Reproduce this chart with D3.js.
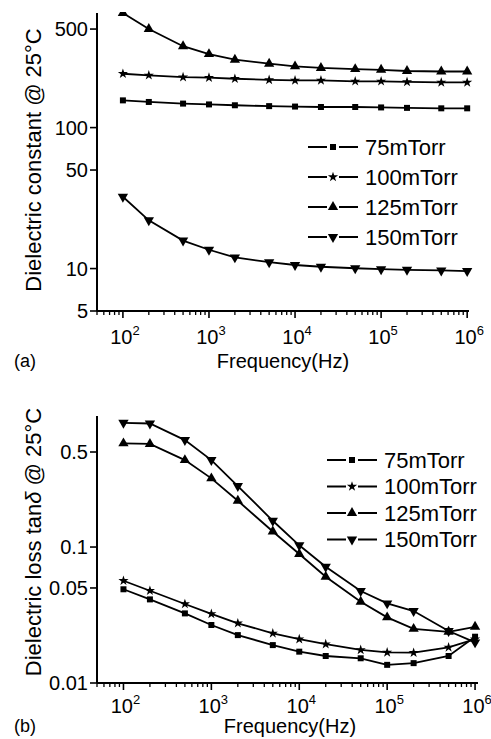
<!DOCTYPE html>
<html lang="en">
<head>
    <meta charset="UTF-8">
    <title>Dielectric constant and loss</title>
    <script src="https://d3js.org/d3.v7.min.js"></script>
    <style>
        body { margin: 0; background: white; }
        text { font-family: "Liberation Sans", Arial, sans-serif; fill: black; }
    </style>
</head>
<body>
<svg id="chart" width="491" height="739"></svg>

<script>
    // Frequencies (Hz) measured for every sample
    let freqs = [1e2, 2e2, 5e2, 1e3, 2e3, 5e3, 1e4, 2e4, 5e4, 1e5, 2e5, 5e5, 1e6];
    let seriesNames = ["75mTorr", "100mTorr", "125mTorr", "150mTorr"];

    // (a) dielectric constant @ 25C
    let eps75  = [156, 152, 148, 146, 144, 142, 141, 140, 140, 139, 138, 137, 137];
    let eps100 = [241, 235, 228, 226, 222, 218, 216, 216, 213, 213, 211, 209, 209];
    let eps125 = [650, 500, 378, 332, 303, 284, 272, 265, 260, 257, 252, 250, 250];
    let eps150 = [32.3, 22.0, 15.8, 13.6, 12.0, 11.1, 10.6, 10.3, 10.05, 9.9, 9.8, 9.7, 9.6];

    // (b) dielectric loss tan(delta) @ 25C
    let tan75  = [0.0489, 0.0412, 0.0325, 0.0267, 0.0225, 0.0190, 0.0170, 0.0158, 0.0152, 0.0136, 0.0140, 0.0158, 0.0219];
    let tan100 = [0.0565, 0.0477, 0.0381, 0.0322, 0.0275, 0.0232, 0.0210, 0.0193, 0.0175, 0.0168, 0.0167, 0.0183, 0.0210];
    let tan125 = [0.579, 0.573, 0.436, 0.320, 0.219, 0.130, 0.0888, 0.0605, 0.0396, 0.0304, 0.0250, 0.0238, 0.0259];
    let tan150 = [0.82, 0.81, 0.612, 0.436, 0.281, 0.156, 0.103, 0.0716, 0.0475, 0.0385, 0.0338, 0.0241, 0.0199];

    let yTicksA = [5, 10, 50, 100, 500];
    let yTicksB = [0.01, 0.05, 0.1, 0.5];
    let xTicks = [1e2, 1e3, 1e4, 1e5, 1e6];

    // marker shape per series
    let symbols = [d3.symbolSquare, d3.symbolStar, d3.symbolTriangle, d3.symbolTriangle];
    let symbolSizes = [36, 32, 46, 46];
    let symbolRotate = [0, 0, 0, 180];

    let svg = d3.select("#chart");

    // Draws one log-log panel
    function drawPanel(opt) {
        let g = svg.append("g");
        let x = d3.scaleLog().domain(opt.xDomain).range(opt.xRange);
        let y = d3.scaleLog().domain(opt.yDomain).range(opt.yRange);

        let clipId = "clip" + opt.tag.replace(/[()]/g, "");
        g.append("clipPath").attr("id", clipId)
            .append("rect")
            .attr("x", opt.xRange[0]).attr("y", opt.yRange[1] - 1)
            .attr("width", opt.xRange[1] - opt.xRange[0] + 10)
            .attr("height", opt.yRange[0] - opt.yRange[1] + 1);

        // x axis with minor ticks pointing down
        let minor = [];
        for (let dec = 10; dec < 1e7; dec *= 10) {
            for (let m = 2; m < 10; m++) {
                let v = dec * m;
                if (v >= opt.xDomain[0] && v <= opt.xDomain[1]) minor.push(v);
            }
        }
        let xAxis = g.append("g").attr("transform", "translate(0," + opt.yRange[0] + ")");
        xAxis.append("line").attr("x1", opt.xRange[0]).attr("x2", opt.xRange[1])
            .attr("stroke", "black").attr("stroke-width", 2);
        xAxis.selectAll(".minor").data(minor).enter().append("line")
            .attr("x1", d => x(d)).attr("x2", d => x(d))
            .attr("y1", 0).attr("y2", 4)
            .attr("stroke", "black").attr("stroke-width", 1.3);
        xAxis.selectAll(".major").data(xTicks).enter().append("line")
            .attr("x1", d => x(d)).attr("x2", d => x(d))
            .attr("y1", 0).attr("y2", 7)
            .attr("stroke", "black").attr("stroke-width", 1.6);
        let xl = xAxis.selectAll(".lab").data(xTicks).enter().append("text")
            .attr("x", d => x(d) + 2).attr("y", opt.xLabelDy)
            .attr("text-anchor", "middle")
            .style("font-size", "20px");
        xl.append("tspan").text("10");
        xl.append("tspan").attr("dy", -9).style("font-size", "13px")
            .text(d => Math.round(Math.log10(d)));

        g.append("text").attr("x", opt.titleX).attr("y", opt.titleY)
            .attr("text-anchor", "middle").style("font-size", "20px")
            .text("Frequency(Hz)");
        g.append("text").attr("x", 14).attr("y", opt.titleY - 1)
            .style("font-size", "18px").text(opt.tag);

        // y axis, ticks pointing left
        let yAxis = g.append("g").attr("transform", "translate(" + opt.xRange[0] + ",0)");
        yAxis.append("line").attr("y1", opt.yRange[0]).attr("y2", opt.yRange[1])
            .attr("stroke", "black").attr("stroke-width", 2);
        yAxis.selectAll(".major").data(opt.yTicks).enter().append("line")
            .attr("x1", -7).attr("x2", 0)
            .attr("y1", d => y(d)).attr("y2", d => y(d))
            .attr("stroke", "black").attr("stroke-width", 1.6);
        yAxis.selectAll(".lab").data(opt.yTicks).enter().append("text")
            .attr("x", -9).attr("y", d => y(d)).attr("dy", "0.36em")
            .attr("text-anchor", "end").style("font-size", "20px")
            .text(d => d);

        let yt = g.append("text")
            .attr("transform", "translate(" + opt.yTitleX + "," + opt.yTitleY + ") rotate(-90)")
            .attr("text-anchor", "middle").style("font-size", "22px");
        opt.yTitle(yt);

        // series lines and markers
        let line = d3.line().x(d => x(d[0])).y(d => y(d[1]));
        let plot = g.append("g").attr("clip-path", "url(#" + clipId + ")");
        opt.series.forEach((vals, i) => {
            let pts = freqs.map((f, k) => [f, vals[k]]);
            plot.append("path").datum(pts)
                .attr("d", line).attr("fill", "none")
                .attr("stroke", "black").attr("stroke-width", 1.8);
            plot.selectAll(".m" + i).data(pts).enter().append("path")
                .attr("d", d3.symbol().type(symbols[i]).size(symbolSizes[i]))
                .attr("transform", d => "translate(" + x(d[0]) + "," + y(d[1]) + ") rotate(" + symbolRotate[i] + ")")
                .attr("fill", "black");
        });

        // legend
        let leg = g.append("g");
        seriesNames.forEach((name, i) => {
            let ly = opt.legendY + i * opt.legendStep;
            leg.append("line").attr("x1", opt.legendX).attr("x2", opt.legendX + 50)
                .attr("y1", ly).attr("y2", ly)
                .attr("stroke", "black").attr("stroke-width", 2);
            leg.append("rect").attr("x", opt.legendX + 19).attr("y", ly - 4)
                .attr("width", 12).attr("height", 8).attr("fill", "white");
            leg.append("path")
                .attr("d", d3.symbol().type(symbols[i]).size(symbolSizes[i]))
                .attr("transform", "translate(" + (opt.legendX + 25) + "," + ly + ") rotate(" + symbolRotate[i] + ")")
                .attr("fill", "black");
            leg.append("text").attr("x", opt.legendX + 57).attr("y", ly).attr("dy", "0.36em")
                .style("font-size", "22px").text(name);
        });
    }

    drawPanel({
        tag: "(a)",
        xDomain: [50, 1.05e6], xRange: [97, 469],
        yDomain: [5, 650], yRange: [311, 13],
        yTicks: yTicksA,
        series: [eps75, eps100, eps125, eps150],
        xLabelDy: 33, titleX: 283, titleY: 368,
        yTitleX: 41, yTitleY: 160,
        yTitle: t => t.text("Dielectric constant @ 25°C"),
        legendX: 308, legendY: 147, legendStep: 30
    });

    drawPanel({
        tag: "(b)",
        xDomain: [50, 1.08e6], xRange: [97, 478],
        yDomain: [0.01, 0.92], yRange: [683, 416],
        yTicks: yTicksB,
        series: [tan75, tan100, tan125, tan150],
        xLabelDy: 30, titleX: 290, titleY: 733,
        yTitleX: 41, yTitleY: 542,
        yTitle: t => {
            t.append("tspan").text("Dielectric loss tan");
            t.append("tspan").style("font-style", "italic").text("δ");
            t.append("tspan").text(" @ 25°C");
        },
        legendX: 327, legendY: 460, legendStep: 26.5
    });
</script>
</body>
</html>
